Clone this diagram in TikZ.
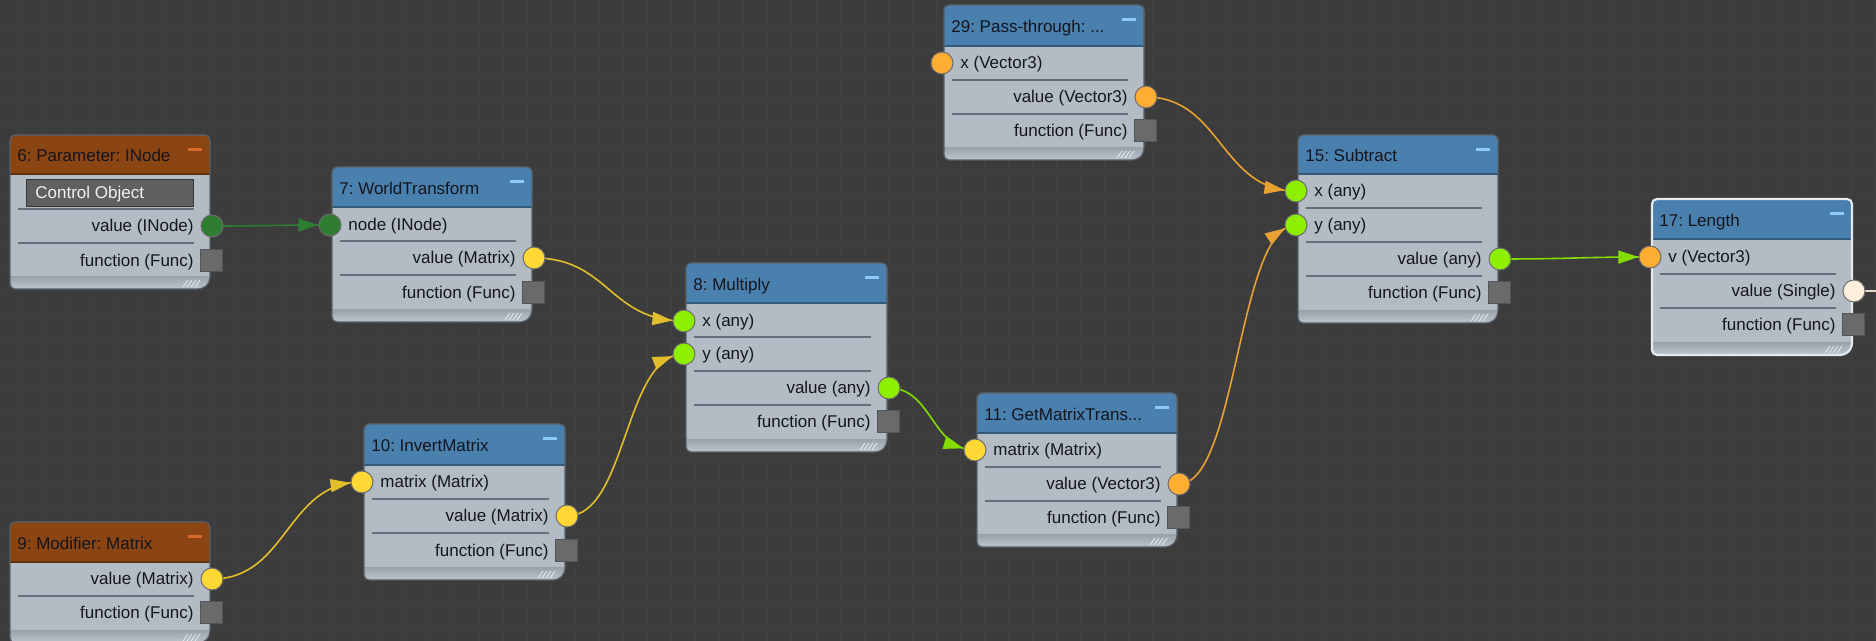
\documentclass[tikz,border=0pt]{standalone}
\usepackage{fontspec}
\setmainfont{Liberation Sans}
\usetikzlibrary{arrows.meta,decorations.markings}
\pgfdeclarelayer{gridlayer}
\pgfdeclarelayer{boxes}
\pgfdeclarelayer{edges}
\pgfsetlayers{gridlayer,boxes,edges,main}
\frenchspacing

\definecolor{bgc}{HTML}{3C3C3C}
\definecolor{gridc}{HTML}{414141}
\definecolor{bodyc}{HTML}{B3BCC5}
\definecolor{hblue}{HTML}{4A80AD}
\definecolor{hbrown}{HTML}{8A4513}
\definecolor{dashblue}{HTML}{8CCBF5}
\definecolor{dashbrown}{HTML}{D9692A}
\definecolor{bordc}{HTML}{56606A}
\definecolor{selc}{HTML}{E4EAF0}
\definecolor{ttext}{HTML}{15151F}
\definecolor{sepc}{HTML}{66707A}
\definecolor{funcc}{HTML}{6A6A6A}
\definecolor{funcb}{HTML}{50565C}
\definecolor{portb}{HTML}{6C6C6C}
\definecolor{pgreen}{HTML}{2F7D32}
\definecolor{pyellow}{HTML}{FFD836}
\definecolor{plime}{HTML}{8CF000}
\definecolor{porange}{HTML}{FFAD33}
\definecolor{pcream}{HTML}{FFEEDB}
\definecolor{wgreen}{HTML}{2E7D32}
\definecolor{wyellow}{HTML}{E3BE2C}
\definecolor{wlime}{HTML}{82DC00}
\definecolor{worange}{HTML}{E9A232}
\definecolor{wcream}{HTML}{E6D9C8}
\definecolor{stripA}{HTML}{9BA4AD}
\definecolor{stripB}{HTML}{C3CAD1}
\definecolor{hatchc}{HTML}{E8EDF2}
\definecolor{ctrlc}{HTML}{606060}
\definecolor{ctrlb}{HTML}{363636}

\tikzset{
  gborder/.style={draw=bordc, line width=0.6pt},
  titletext/.style={font=\fontsize{8.5}{10}\selectfont, text=ttext, inner sep=0pt, text height=6.2pt, text depth=1.8pt},
  rowtext/.style={font=\fontsize{8.5}{10}\selectfont, text=ttext, inner sep=0pt, text height=6.2pt, text depth=1.8pt},
  port/.style={circle, draw=portb, line width=0.5pt, minimum size=11pt, inner sep=0pt},
  funcsq/.style={rectangle, draw=funcb, fill=funcc, line width=0.5pt, minimum size=11pt, inner sep=0pt},
  sepline/.style={draw=sepc, line width=0.8pt},
  wire/.style={draw=#1, line width=0.8pt, postaction={decorate},
    decoration={markings, mark=at position -5.8pt with {\arrow{Triangle[length=10pt,width=6.5pt,color=#1]}}}},
  plainwire/.style={draw=#1, line width=0.8pt},
}

% #1 name, #2 L, #3 T, #4 R, #5 B, #6 header bottom, #7 header colour, #8 dash colour, #9 title
\newcommand\GBox[9]{%
  \begin{pgfonlayer}{boxes}
    \begin{scope}
      \clip[rounded corners=2.5pt] (#2,#5) -- (#2,#3) -- (#4,#3) -- (#4,#5-7) -- (#4-7,#5) -- cycle;
      \fill[bodyc] (#2-2,#3-2) rectangle (#4+2,#5+2);
      \fill[#7] (#2-2,#3-2) rectangle (#4+2,#6);
      \shade[top color=stripA, bottom color=stripB] (#2-2,#5-12) rectangle (#4+2,#5+2);
    \end{scope}
    \draw[#7!70!black, line width=0.6pt] (#2,#6) -- (#4,#6);
    \draw[gborder, rounded corners=2.5pt] (#2,#5) -- (#2,#3) -- (#4,#3) -- (#4,#5-7) -- (#4-7,#5) -- cycle;
    \fill[#8] (#4-22,#3+13) rectangle (#4-8,#3+16);
    \foreach \k in {0,1,2,3} \draw[hatchc, line width=0.4pt] (#4-27+4*\k,#5-2) -- ++(5,-7);
  \end{pgfonlayer}
  \node[titletext, anchor=west] (#1) at (#2+7,{(#3+#6)/2+3}) {#9};
}
% #1 name, #2 L, #3 y, #4 colour, #5 text
\newcommand\InPort[5]{%
  \node[port, fill=#4] (#1) at (#2-2,#3) {};
  \node[rowtext, anchor=west] (#1-t) at (#2+16,#3+1) {#5};
}
% #1 name, #2 R, #3 y, #4 colour, #5 text
\newcommand\OutPort[5]{%
  \node[port, fill=#4] (#1) at (#2+2,#3) {};
  \node[rowtext, anchor=east] (#1-t) at (#2-16,#3+1) {#5};
}
% #1 name, #2 R, #3 y
\newcommand\FuncPort[3]{%
  \node[funcsq] (#1) at (#2+1,#3) {};
  \node[rowtext, anchor=east] (#1-t) at (#2-16,#3+1) {function (Func)};
}
% #1 L, #2 R, #3 y
\newcommand\Sep[3]{\draw[sepline] (#1+8,#3) -- (#2-16,#3);}

\begin{document}
\begin{tikzpicture}[x=0.5pt, y=-0.5pt]
\useasboundingbox (0,0) rectangle (1876,641);
\begin{pgfonlayer}{gridlayer}
  \fill[bgc] (0,0) rectangle (1876,641);
  \foreach \i in {0,...,77} \draw[gridc, line width=0.5pt] ({21.7+24.07*\i},0) -- ++(0,641);
  \foreach \j in {0,...,26} \draw[gridc, line width=0.5pt] (0,{26+24.07*\j}) -- ++(1876,0);
\end{pgfonlayer}

% 6: Parameter: INode
\GBox{n6}{10}{135}{210}{289}{174}{hbrown}{dashbrown}{6: Parameter: INode}
\node[draw=ctrlb, fill=ctrlc, line width=0.6pt, minimum width=83.5pt, minimum height=13.5pt, inner sep=0pt, anchor=north west] (n6c) at (26,179) {};
\node[rowtext, text=white!94!black, anchor=west] (n6ct) at (35,194.5) {Control Object};
\Sep{10}{210}{209}
\OutPort{n6v}{210}{226}{pgreen}{value (INode)}
\Sep{10}{210}{243}
\FuncPort{n6f}{210}{261}

% 7: WorldTransform
\GBox{n7}{332}{167}{532}{322}{207}{hblue}{dashblue}{7: WorldTransform}
\InPort{n7n}{332}{225}{pgreen}{node (INode)}
\Sep{332}{532}{241}
\OutPort{n7v}{532}{258}{pyellow}{value (Matrix)}
\Sep{332}{532}{275}
\FuncPort{n7f}{532}{293}

% 9: Modifier: Matrix
\GBox{n9}{10}{522}{210}{643}{562}{hbrown}{dashbrown}{9: Modifier: Matrix}
\OutPort{n9v}{210}{579}{pyellow}{value (Matrix)}
\Sep{10}{210}{596}
\FuncPort{n9f}{210}{613}

% 10: InvertMatrix
\GBox{n10}{364}{424}{565}{580}{465}{hblue}{dashblue}{10: InvertMatrix}
\InPort{n10m}{364}{482}{pyellow}{matrix (Matrix)}
\Sep{364}{565}{499}
\OutPort{n10v}{565}{516}{pyellow}{value (Matrix)}
\Sep{364}{565}{533}
\FuncPort{n10f}{565}{551}

% 8: Multiply
\GBox{n8}{686}{263}{887}{452}{303}{hblue}{dashblue}{8: Multiply}
\InPort{n8x}{686}{321}{plime}{x (any)}
\Sep{686}{887}{337}
\InPort{n8y}{686}{354}{plime}{y (any)}
\Sep{686}{887}{371}
\OutPort{n8v}{887}{388}{plime}{value (any)}
\Sep{686}{887}{405}
\FuncPort{n8f}{887}{422}

% 11: GetMatrixTrans...
\GBox{n11}{977}{393}{1177}{547}{433}{hblue}{dashblue}{11: GetMatrixTrans...}
\InPort{n11m}{977}{450}{pyellow}{matrix (Matrix)}
\Sep{977}{1177}{467}
\OutPort{n11v}{1177}{484}{porange}{value (Vector3)}
\Sep{977}{1177}{501}
\FuncPort{n11f}{1177}{518}

% 29: Pass-through
\GBox{n29}{944}{5}{1144}{160}{46}{hblue}{dashblue}{29: Pass-through: ...}
\InPort{n29x}{944}{63}{porange}{x (Vector3)}
\Sep{944}{1144}{80}
\OutPort{n29v}{1144}{97}{porange}{value (Vector3)}
\Sep{944}{1144}{114}
\FuncPort{n29f}{1144}{131}

% 15: Subtract
\GBox{n15}{1298}{135}{1498}{323}{174}{hblue}{dashblue}{15: Subtract}
\InPort{n15x}{1298}{191}{plime}{x (any)}
\Sep{1298}{1498}{208}
\InPort{n15y}{1298}{225}{plime}{y (any)}
\Sep{1298}{1498}{242}
\OutPort{n15v}{1498}{259}{plime}{value (any)}
\Sep{1298}{1498}{276}
\FuncPort{n15f}{1498}{293}

% 17: Length (selected)
\begin{scope}[gborder/.style={draw=selc, line width=1.1pt}]
\GBox{n17}{1652}{199}{1852}{355}{239}{hblue}{dashblue}{17: Length}
\end{scope}
\InPort{n17v}{1652}{257}{porange}{v (Vector3)}
\Sep{1652}{1852}{274}
\OutPort{n17o}{1852}{291}{pcream}{value (Single)}
\Sep{1652}{1852}{308}
\FuncPort{n17f}{1852}{325}

% connectors
\begin{pgfonlayer}{edges}
  \draw[wire=wgreen] (n6v.center) .. controls +(55,0) and +(-55,0) .. (n7n.center);
  \draw[wire=wyellow] (n7v.center) .. controls +(75,0) and +(-75,0) .. (n8x.center);
  \draw[wire=wyellow] (n10v.center) .. controls +(60,0) and +(-60,0) .. (n8y.center);
  \draw[wire=wyellow] (n9v.center) .. controls +(76,0) and +(-76,0) .. (n10m.center);
  \draw[wire=wlime] (n8v.center) .. controls +(43,0) and +(-43,0) .. (n11m.center);
  \draw[wire=worange] (n29v.center) .. controls +(75,0) and +(-75,0) .. (n15x.center);
  \draw[wire=worange] (n11v.center) .. controls +(58,0) and +(-58,0) .. (n15y.center);
  \draw[wire=wlime] (n15v.center) .. controls +(75,0) and +(-75,0) .. (n17v.center);
  \coordinate (n17out) at (1876,291);
  \draw[plainwire=wcream] (n17o.center) -- (n17out);
\end{pgfonlayer}
\end{tikzpicture}
\end{document}
